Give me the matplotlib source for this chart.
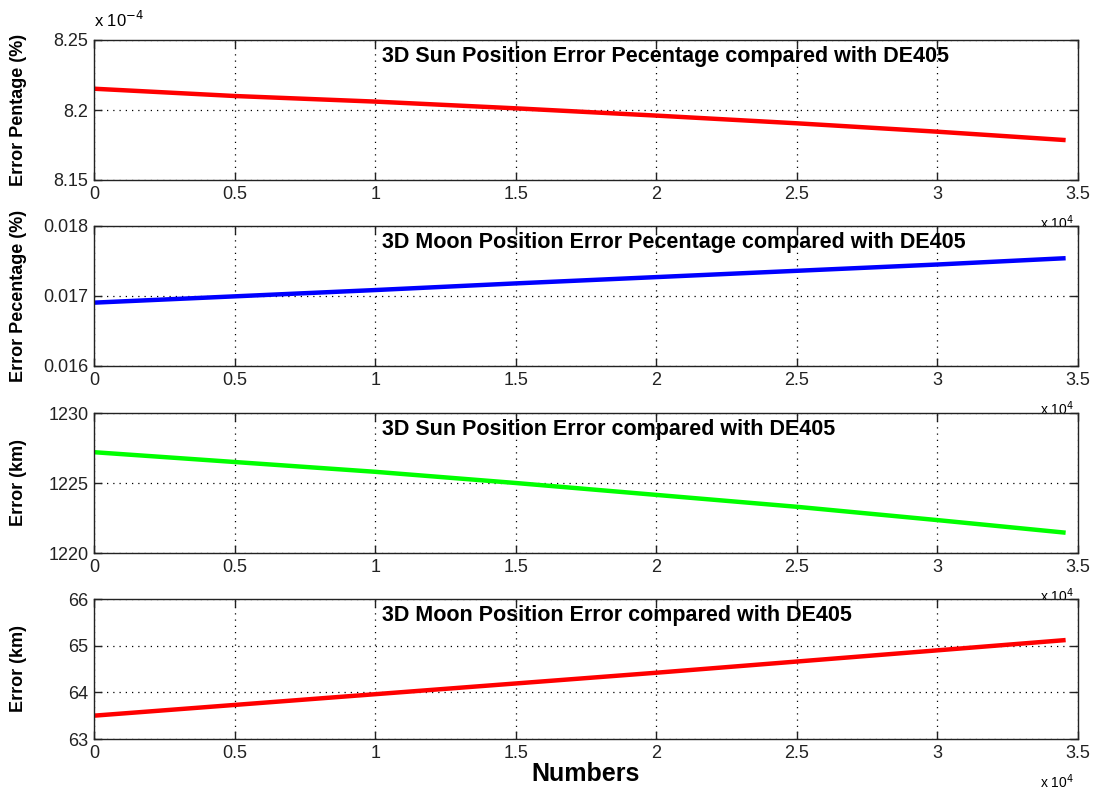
# MATLAB-style 4-panel position error plot
import numpy as np
import matplotlib.pyplot as plt

plt.rcParams['font.family'] = ['Liberation Sans', 'DejaVu Sans']

# sample numbers (x axis) and values
numbers = [0, 5000, 10000, 15000, 20000, 25000, 30000, 34560]
sun_pct = [8.2152, 8.2100, 8.2060, 8.2012, 8.1960, 8.1905, 8.1845, 8.1785]  # x 1e-4 %
moon_pct = [0.016905, 0.016995, 0.017085, 0.017180, 0.017270, 0.017360, 0.017450, 0.017540]
sun_km = [1227.2, 1226.5, 1225.8, 1225.0, 1224.15, 1223.3, 1222.35, 1221.45]
moon_km = [63.50, 63.73, 63.96, 64.19, 64.42, 64.66, 64.90, 65.12]

panels = [
    (sun_pct, 'red', '3D Sun Position Error Pecentage compared with DE405', 'Error Pentage (%)',
     (8.15, 8.25), [8.15, 8.2, 8.25], ['8.15', '8.2', '8.25']),
    (moon_pct, 'blue', '3D Moon Position Error Pecentage compared with DE405', 'Error Pecentage (%)',
     (0.016, 0.018), [0.016, 0.017, 0.018], ['0.016', '0.017', '0.018']),
    (sun_km, '#00ff00', '3D Sun Position Error compared with DE405', 'Error (km)',
     (1220, 1230), [1220, 1225, 1230], ['1220', '1225', '1230']),
    (moon_km, 'red', '3D Moon Position Error compared with DE405', 'Error (km)',
     (63, 66), [63, 64, 65, 66], ['63', '64', '65', '66']),
]

W, H = 1096, 791
fig = plt.figure(figsize=(W / 100, H / 100), dpi=100)
tops = [40, 226, 413, 599]
ax_h = 140
left, right = 94, 1078
xticks = [0, 5000, 10000, 15000, 20000, 25000, 30000, 35000]
xlabels = ['0', '0.5', '1', '1.5', '2', '2.5', '3', '3.5']

axes = []
for i, (vals, col, title, ylab, ylim, yt, ytl) in enumerate(panels):
    ax = fig.add_axes([left / W, 1 - (tops[i] + ax_h) / H, (right - left) / W, ax_h / H])
    ax.plot(numbers, vals, color=col, lw=3.2, solid_capstyle='butt')
    ax.set_xlim(0, 35000)
    ax.set_ylim(*ylim)
    ax.set_xticks(xticks)
    ax.set_xticklabels(xlabels)
    ax.set_yticks(yt)
    ax.set_yticklabels(ytl)
    ax.tick_params(direction='in', top=True, right=True, length=6, width=1,
                   labelsize=13, pad=4, colors='#222222')
    ax.grid(True, linestyle=(0, (1, 4)), color='black', lw=0.9)
    for s in ax.spines.values():
        s.set_linewidth(1)
        s.set_color('#222222')
    ax.text(0.293, 0.88, title, transform=ax.transAxes, fontsize=15.5, fontweight='bold',
            ha='left', va='center')
    ax.set_ylabel(ylab, fontsize=13, fontweight='bold')
    ax.yaxis.set_label_coords(-0.068, 0.5)
    # "x 10^4" under the right end, hidden partly by the next panel
    fig.text(1040 / W, 1 - (tops[i] + ax_h + 33) / H, r'x 10$^4$', fontsize=10,
             ha='left', va='top', zorder=-5)
    axes.append(ax)

fig.text(94 / W, 1 - 20 / H, r'x 10$^{-4}$', fontsize=12, ha='left', va='center')
axes[-1].set_xlabel('Numbers', fontsize=18, fontweight='bold', labelpad=0)

plt.savefig('out.png', dpi=100, facecolor='white')
